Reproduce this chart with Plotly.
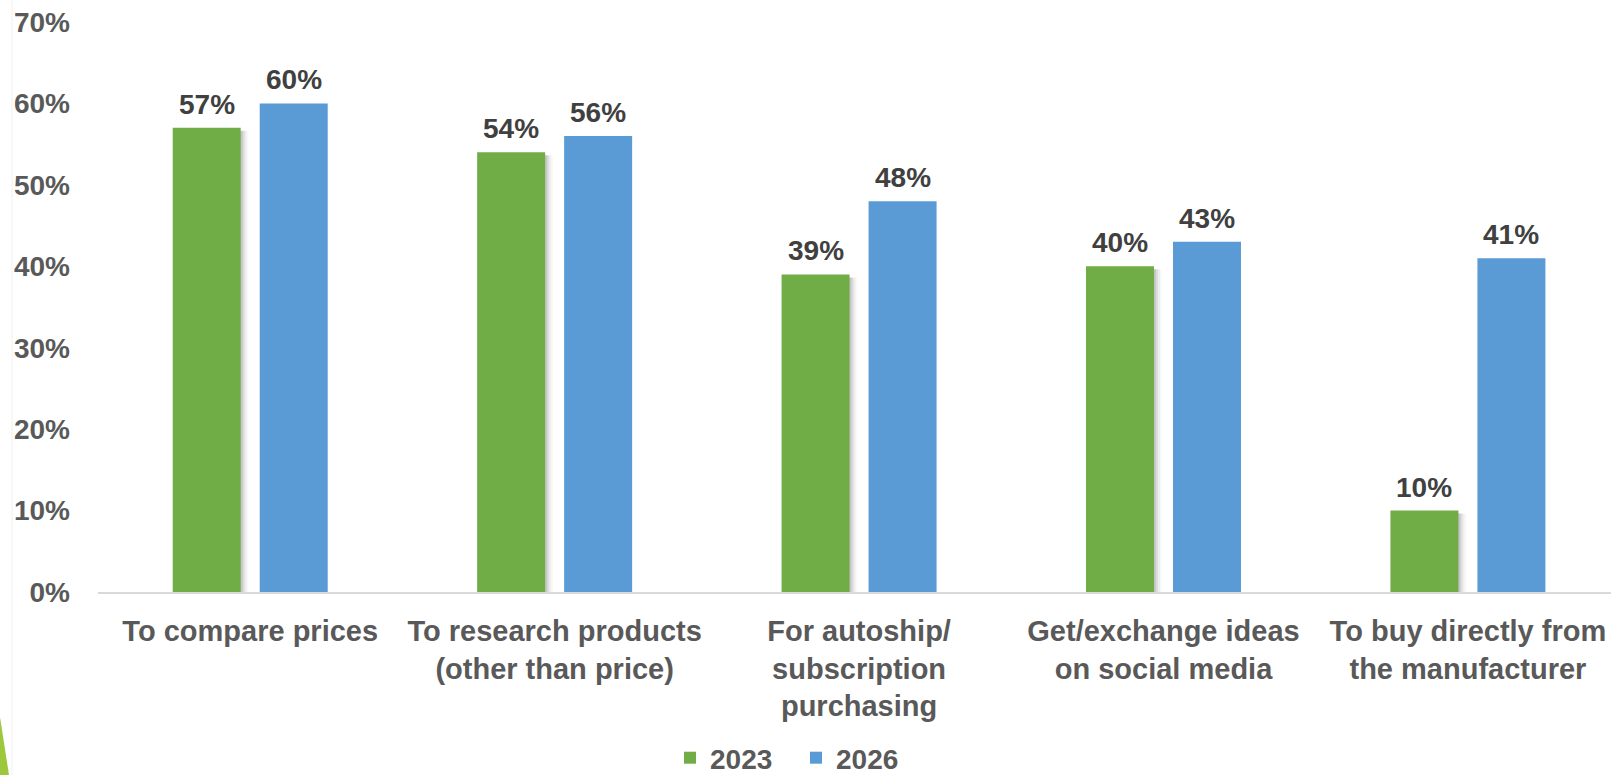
import plotly.graph_objects as go

# Reasons for using online channels, share of respondents
categories = [
    "To compare prices",
    "To research products<br>(other than price)",
    "For autoship/<br>subscription<br>purchasing",
    "Get/exchange ideas<br>on social media",
    "To buy directly from<br>the manufacturer",
]
values_2023 = [57, 54, 39, 40, 10]
values_2026 = [60, 56, 48, 43, 41]
series_names = ["2023", "2026"]
y_ticks = [0, 10, 20, 30, 40, 50, 60, 70]

GREEN = "#70ad47"
BLUE = "#5b9bd5"
AXIS_TEXT = "#595959"
LABEL_TEXT = "#404040"
FONT = "Liberation Sans, Arial, sans-serif"

W, H = 1611, 775
M_L, M_R, M_T, M_B = 98, 0, 22, 183
x_range = [-0.5, 4.47]
px_per_cat = (W - M_L - M_R) / (x_range[1] - x_range[0])
px_per_unit = (H - M_T - M_B) / 70.0

bar_w = 68 / px_per_cat
off_green = -77.5 / px_per_cat
off_blue = 9.5 / px_per_cat

xs = list(range(len(categories)))

fig = go.Figure()

# soft drop shadow to the right of the green bars
for dx, alpha in [(2, 0.10), (4, 0.07), (6, 0.045), (8, 0.025)]:
    fig.add_trace(go.Bar(
        x=xs, y=[v - 3 / px_per_unit for v in values_2023],
        offset=off_green + dx / px_per_cat, width=bar_w,
        marker=dict(color=f"rgba(0,0,0,{alpha})", line=dict(width=0)),
        showlegend=False, hoverinfo="skip",
    ))

fig.add_trace(go.Bar(
    x=xs, y=values_2023, name=series_names[0],
    offset=off_green, width=bar_w,
    marker=dict(color=GREEN, line=dict(width=0)),
))
fig.add_trace(go.Bar(
    x=xs, y=values_2026, name=series_names[1],
    offset=off_blue, width=bar_w,
    marker=dict(color=BLUE, line=dict(width=0)),
))

# value labels above each bar
for vals, off in [(values_2023, off_green), (values_2026, off_blue)]:
    for i, v in zip(xs, vals):
        fig.add_annotation(
            x=i + off + bar_w / 2, y=v, text=f"{v}%",
            xref="x", yref="y", yanchor="bottom", xanchor="center",
            yshift=6, showarrow=False,
            font=dict(family=FONT, size=28, color=LABEL_TEXT, weight="bold"),
        )

def px_to_paper_x(px):
    return (px - M_L) / (W - M_L - M_R)

def px_to_paper_y(py):
    return (H - M_B - py) / (H - M_T - M_B)

# slide decoration: thin edge line and green corner wedge
fig.add_shape(
    type="line", xref="paper", yref="paper",
    x0=px_to_paper_x(12), x1=px_to_paper_x(12),
    y0=px_to_paper_y(0), y1=px_to_paper_y(H),
    line=dict(color="#f0f0f0", width=1),
)
fig.add_shape(
    type="path", xref="paper", yref="paper",
    path=(f"M {px_to_paper_x(0)} {px_to_paper_y(717)} "
          f"L {px_to_paper_x(9)} {px_to_paper_y(H)} "
          f"L {px_to_paper_x(0)} {px_to_paper_y(H)} Z"),
    fillcolor="#9dc83c", line=dict(width=0),
)

fig.update_layout(
    width=W, height=H,
    margin=dict(l=M_L, r=M_R, t=M_T, b=M_B, autoexpand=False),
    paper_bgcolor="white", plot_bgcolor="white",
    barmode="overlay",
    font=dict(family=FONT),
    legend=dict(
        orientation="h", x=px_to_paper_x(670), xanchor="left",
        y=px_to_paper_y(758), yanchor="middle",
        font=dict(family=FONT, size=28, color=AXIS_TEXT, weight="bold"),
        itemwidth=30, entrywidth=81, entrywidthmode="pixels",
        traceorder="normal",
        bgcolor="rgba(0,0,0,0)",
    ),
    xaxis=dict(
        range=x_range, tickmode="array", tickvals=xs, ticktext=categories,
        showgrid=False, zeroline=False,
        showline=True, linecolor="#d9d9d9", linewidth=2,
        ticks="", ticklabelstandoff=12,
        tickfont=dict(family=FONT, size=29, color=AXIS_TEXT, weight="bold"),
    ),
    yaxis=dict(
        range=[0, 70], tickmode="array", tickvals=y_ticks,
        ticktext=[f"{t}%" for t in y_ticks],
        showgrid=False, zeroline=False, showline=False,
        ticks="", ticklabelstandoff=27,
        tickfont=dict(family=FONT, size=28, color=AXIS_TEXT, weight="bold"),
    ),
    showlegend=True,
)

fig.write_html("out.html")
